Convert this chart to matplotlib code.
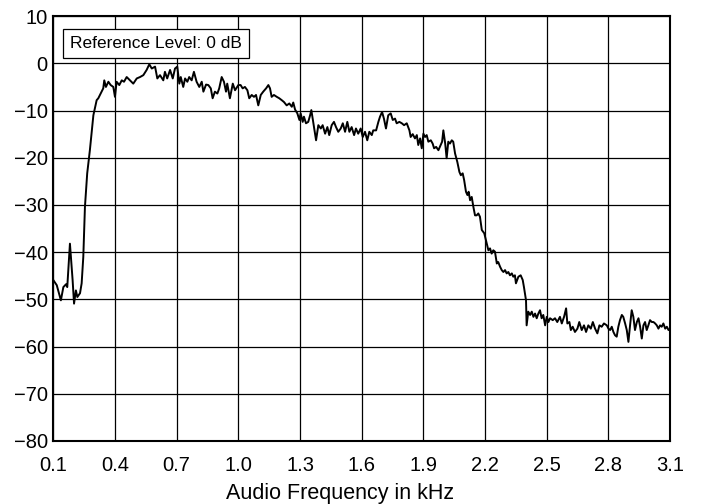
import matplotlib

matplotlib.use("Agg")
import matplotlib.pyplot as plt
import numpy as np

plt.rcParams["font.family"] = ["Liberation Sans", "DejaVu Sans"]

# Spectrum trace (kHz, dB)
freq_khz = [
    0.100, 0.117, 0.137, 0.149, 0.162, 0.168, 0.181, 0.194, 0.201, 0.210,
    0.217, 0.230, 0.238, 0.246, 0.254, 0.265, 0.278, 0.295, 0.311, 0.319,
    0.327, 0.335, 0.343, 0.348, 0.356, 0.368, 0.379, 0.392, 0.400, 0.408,
    0.421, 0.433, 0.444, 0.457, 0.473, 0.489, 0.506, 0.522, 0.538, 0.554,
    0.567, 0.579, 0.595, 0.606, 0.619, 0.635, 0.643, 0.654, 0.668, 0.681,
    0.692, 0.703, 0.713, 0.720, 0.732, 0.741, 0.752, 0.761, 0.773, 0.784,
    0.797, 0.810, 0.822, 0.830, 0.843, 0.854, 0.866, 0.875, 0.886, 0.898,
    0.907, 0.919, 0.930, 0.940, 0.946, 0.959, 0.973, 0.984, 1.000, 1.011,
    1.021, 1.032, 1.044, 1.053, 1.065, 1.076, 1.086, 1.097, 1.109, 1.121,
    1.135, 1.146, 1.154, 1.162, 1.173, 1.187, 1.199, 1.211, 1.222, 1.235,
    1.248, 1.260, 1.267, 1.276, 1.287, 1.297, 1.303, 1.313, 1.319, 1.329,
    1.340, 1.349, 1.355, 1.365, 1.378, 1.389, 1.401, 1.410, 1.422, 1.433,
    1.442, 1.454, 1.465, 1.475, 1.486, 1.498, 1.508, 1.519, 1.530, 1.540,
    1.551, 1.563, 1.572, 1.583, 1.595, 1.605, 1.616, 1.627, 1.637, 1.649,
    1.656, 1.670, 1.681, 1.689, 1.699, 1.708, 1.718, 1.729, 1.741, 1.751,
    1.762, 1.770, 1.783, 1.795, 1.806, 1.819, 1.832, 1.838, 1.848, 1.859,
    1.868, 1.875, 1.884, 1.892, 1.900, 1.908, 1.916, 1.924, 1.936, 1.945,
    1.952, 1.962, 1.973, 1.984, 1.991, 1.997, 2.006, 2.013, 2.021, 2.029,
    2.038, 2.045, 2.054, 2.065, 2.075, 2.082, 2.091, 2.098, 2.107, 2.114,
    2.120, 2.127, 2.135, 2.143, 2.151, 2.159, 2.167, 2.175, 2.184, 2.196,
    2.208, 2.216, 2.224, 2.232, 2.240, 2.248, 2.257, 2.264, 2.273, 2.281,
    2.289, 2.297, 2.305, 2.313, 2.321, 2.330, 2.337, 2.345, 2.350, 2.362,
    2.373, 2.383, 2.389, 2.399, 2.402, 2.410, 2.419, 2.427, 2.435, 2.443,
    2.451, 2.459, 2.467, 2.475, 2.483, 2.492, 2.500, 2.508, 2.516, 2.529,
    2.540, 2.551, 2.564, 2.573, 2.584, 2.594, 2.600, 2.610, 2.617, 2.626,
    2.637, 2.649, 2.658, 2.670, 2.681, 2.691, 2.702, 2.714, 2.724, 2.735,
    2.746, 2.756, 2.767, 2.778, 2.792, 2.800, 2.808, 2.816, 2.824, 2.832,
    2.840, 2.848, 2.856, 2.865, 2.872, 2.881, 2.889, 2.897, 2.905, 2.913,
    2.921, 2.929, 2.938, 2.946, 2.954, 2.962, 2.970, 2.978, 2.986, 2.994,
    3.002, 3.011, 3.019, 3.027, 3.035, 3.043, 3.051, 3.059, 3.067, 3.076,
    3.084, 3.092, 3.100,
]
level_db = [
    -45.9, -47.0, -50.2, -47.4, -46.8, -47.4, -38.2, -45.9, -50.9, -48.1,
    -49.5, -48.7, -46.6, -41.0, -30.4, -23.3, -18.4, -11.0, -7.8, -7.4,
    -6.7, -6.0, -5.3, -3.6, -5.0, -3.9, -4.6, -5.0, -7.1, -3.9,
    -4.6, -3.6, -3.9, -2.9, -3.6, -4.3, -3.2, -2.9, -2.5, -1.4,
    -0.2, -1.1, -0.7, -3.2, -2.5, -3.6, -1.8, -3.2, -1.4, -3.2,
    -1.1, -0.7, -4.3, -2.9, -5.0, -3.2, -3.9, -2.9, -3.6, -1.8,
    -3.9, -5.0, -3.9, -6.0, -4.5, -4.6, -5.3, -7.4, -6.0, -6.4,
    -5.3, -2.9, -3.9, -6.0, -4.3, -7.4, -4.3, -5.7, -4.6, -4.6,
    -5.3, -5.0, -5.7, -7.4, -6.7, -7.1, -6.7, -8.9, -6.7, -6.0,
    -5.3, -4.6, -5.3, -7.1, -6.7, -7.1, -7.4, -7.8, -8.2, -8.9,
    -8.5, -9.2, -8.3, -9.8, -10.6, -12.0, -10.6, -12.4, -11.3, -12.7,
    -12.4, -11.0, -9.9, -12.7, -16.3, -13.1, -13.8, -13.1, -14.9, -13.5,
    -15.2, -13.1, -12.4, -13.5, -14.5, -13.8, -12.7, -14.5, -12.4, -14.5,
    -13.5, -15.2, -13.8, -14.9, -13.8, -15.6, -14.5, -16.3, -14.5, -15.2,
    -14.2, -14.2, -12.4, -11.3, -10.3, -11.7, -13.8, -11.0, -10.6, -12.0,
    -11.7, -12.7, -12.4, -12.7, -13.1, -12.7, -14.2, -15.6, -15.0, -15.9,
    -15.2, -17.3, -15.9, -18.0, -14.9, -15.6, -15.2, -16.6, -16.3, -17.0,
    -18.0, -17.7, -18.4, -17.3, -16.6, -14.2, -17.0, -20.1, -16.6, -17.0,
    -16.3, -16.6, -19.1, -20.9, -23.0, -23.7, -23.3, -24.7, -27.2, -27.9,
    -27.2, -29.0, -28.3, -30.4, -32.2, -32.2, -31.8, -32.5, -35.3, -36.0,
    -38.2, -39.6, -39.2, -40.3, -39.6, -39.9, -42.4, -42.1, -43.1, -43.8,
    -44.2, -43.8, -44.5, -44.2, -44.9, -44.5, -45.2, -44.9, -46.6, -45.2,
    -44.9, -45.9, -47.4, -50.2, -55.5, -52.6, -53.3, -52.6, -53.7, -53.0,
    -54.0, -53.0, -52.3, -54.0, -53.3, -55.5, -53.7, -54.8, -54.0, -54.4,
    -54.0, -54.8, -53.7, -55.1, -53.7, -51.9, -55.1, -54.8, -56.5, -55.8,
    -56.9, -56.2, -54.8, -56.5, -55.5, -56.9, -55.5, -56.2, -54.8, -56.2,
    -57.2, -55.5, -55.8, -55.1, -55.5, -56.2, -56.5, -55.8, -56.9, -57.6,
    -57.9, -55.8, -54.4, -53.3, -53.7, -55.1, -56.5, -59.0, -55.5, -52.3,
    -53.7, -56.5, -54.8, -54.0, -55.8, -58.3, -55.5, -54.8, -56.5, -55.5,
    -54.4, -54.8, -54.8, -55.1, -55.5, -56.2, -55.5, -55.8, -55.1, -56.2,
    -55.8, -56.5, -56.2,
]

x_ticks = [0.1, 0.4, 0.7, 1.0, 1.3, 1.6, 1.9, 2.2, 2.5, 2.8, 3.1]
y_ticks = [-80, -70, -60, -50, -40, -30, -20, -10, 0, 10]

fig = plt.figure(figsize=(7.01, 5.04), dpi=100)
ax = fig.add_axes([0.076, 0.125, 0.880, 0.843])

ax.plot(freq_khz, level_db, color="black", linewidth=1.4)

ax.set_xlim(0.1, 3.1)
ax.set_ylim(-80, 10)
ax.set_xticks(x_ticks)
ax.set_xticklabels([f"{t:.1f}" for t in x_ticks])
ax.set_yticks(y_ticks)
ax.set_yticklabels([str(t).replace("-", "\u2212") for t in y_ticks])
ax.tick_params(length=0, labelsize=14.5)
ax.tick_params(axis="x", pad=11)
ax.tick_params(axis="y", pad=4)
ax.grid(True, color="black", linewidth=0.9)
for sp in ax.spines.values():
    sp.set_linewidth(1.5)

# label sits a little left of the axes centre in the original
ax.set_xlabel("Audio Frequency in kHz", fontsize=15.5)
ax.xaxis.set_label_coords(0.465, -0.098)

ax.text(0.027, 0.953, "Reference Level: 0 dB", transform=ax.transAxes,
        fontsize=12.5, va="top", ha="left",
        bbox=dict(boxstyle="square,pad=0.4", facecolor="white",
                  edgecolor="black", linewidth=0.9))

fig.savefig("out.png", dpi=100)
